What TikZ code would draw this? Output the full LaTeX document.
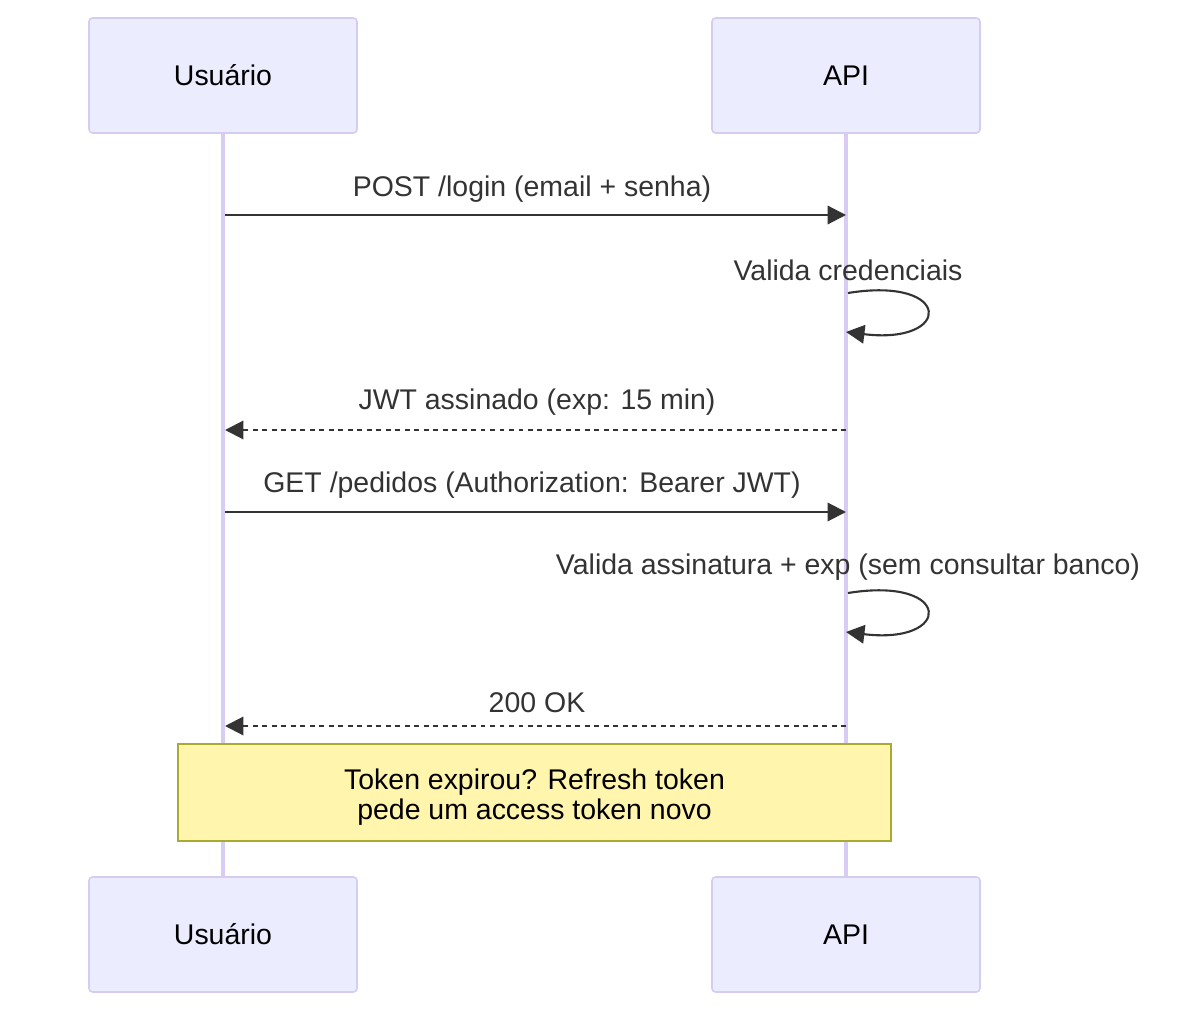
\documentclass[tikz,border=0pt]{standalone}
\usepackage{fontspec}
\setmainfont{Liberation Sans}
\usetikzlibrary{arrows.meta, positioning}
\definecolor{actorfill}{HTML}{ECECFF}
\definecolor{actorline}{HTML}{D6CCF2}
\definecolor{lifecolor}{HTML}{D8CCF4}
\definecolor{msgdark}{HTML}{333333}
\definecolor{notefill}{HTML}{FFF5AD}
\definecolor{noteline}{HTML}{AAAA33}
\tikzset{
	actor/.style={draw=actorline, fill=actorfill, line width=0.9pt,
		rounded corners=2pt, minimum width=5.36cm, minimum height=2.3cm,
		inner sep=0pt, font=\fontsize{16.2}{19}\selectfont, text=black},
	lifeline/.style={lifecolor, line width=2pt},
	msg/.style={msgdark, line width=1.2pt,
		-{Triangle[length=10.5pt, width=10.5pt]}},
	reply/.style={msg, dash pattern=on 2.8pt off 2.6pt},
	msgtext/.style={font=\fontsize{16.2}{19}\selectfont, text=msgdark, inner sep=0pt},
	notebox/.style={draw=noteline, fill=notefill, line width=0.8pt,
		minimum width=14.26cm, minimum height=1.94cm, inner sep=0pt,
		align=center, font=\fontsize{16.2}{17}\selectfont, text=black}
}
\begin{document}
\begin{tikzpicture}[x=0.02cm, y=-0.02cm]
				\useasboundingbox (0,0) rectangle (1200,1013);
				% Actors, top and bottom
				\node[actor] (user-top) at (223,75.5) {Usuário};
				\node[actor] (api-top) at (846,75.5) {API};
				\node[actor] (user-bot) at (223,934.5) {Usuário};
				\node[actor] (api-bot) at (846,934.5) {API};
				% Lifelines
				\draw[lifeline] (user-top.south) -- (user-bot.north);
				\draw[lifeline] (api-top.south) -- (api-bot.north);
				% POST /login
				\coordinate (u1) at (225,215);
				\coordinate (a1) at (846,215);
				\node[msgtext] (m-login) at (532,189) {POST /login (email + senha)};
				\draw[msg] (u1) -- (a1);
				% Validate credentials (self call)
				\coordinate (s1) at (848,293);
				\coordinate (e1) at (846,332);
				\node[msgtext] (m-cred) at (848,270) {Valida credenciais};
				\draw[msg] (s1) .. controls (953,276) and (953,345) .. (e1);
				% JWT back
				\coordinate (a2) at (846,430);
				\coordinate (u2) at (225,430);
				\node[msgtext] (m-jwt) at (537,402) {JWT assinado (exp: 15 min)};
				\draw[reply] (a2) -- (u2);
				% GET /pedidos
				\coordinate (u3) at (225,512);
				\coordinate (a3) at (846,512);
				\node[msgtext] (m-get) at (532,485) {GET /pedidos (Authorization: Bearer JWT)};
				\draw[msg] (u3) -- (a3);
				% Validate signature (self call)
				\coordinate (s2) at (848,593);
				\coordinate (e2) at (846,632);
				\node[msgtext] (m-sig) at (848,567) {Valida assinatura + exp (sem consultar banco)};
				\draw[msg] (s2) .. controls (953,576) and (953,645) .. (e2);
				% 200 OK back
				\coordinate (a4) at (846,726);
				\coordinate (u4) at (225,726);
				\node[msgtext] (m-ok) at (537,703) {200 OK};
				\draw[reply] (a4) -- (u4);
				% Note over both
				\node[notebox] (note) at (534.5,792.5)
				{\rule{0pt}{17pt}Token expirou? Refresh token\\pede um access token novo};
			\end{tikzpicture}
\end{document}
